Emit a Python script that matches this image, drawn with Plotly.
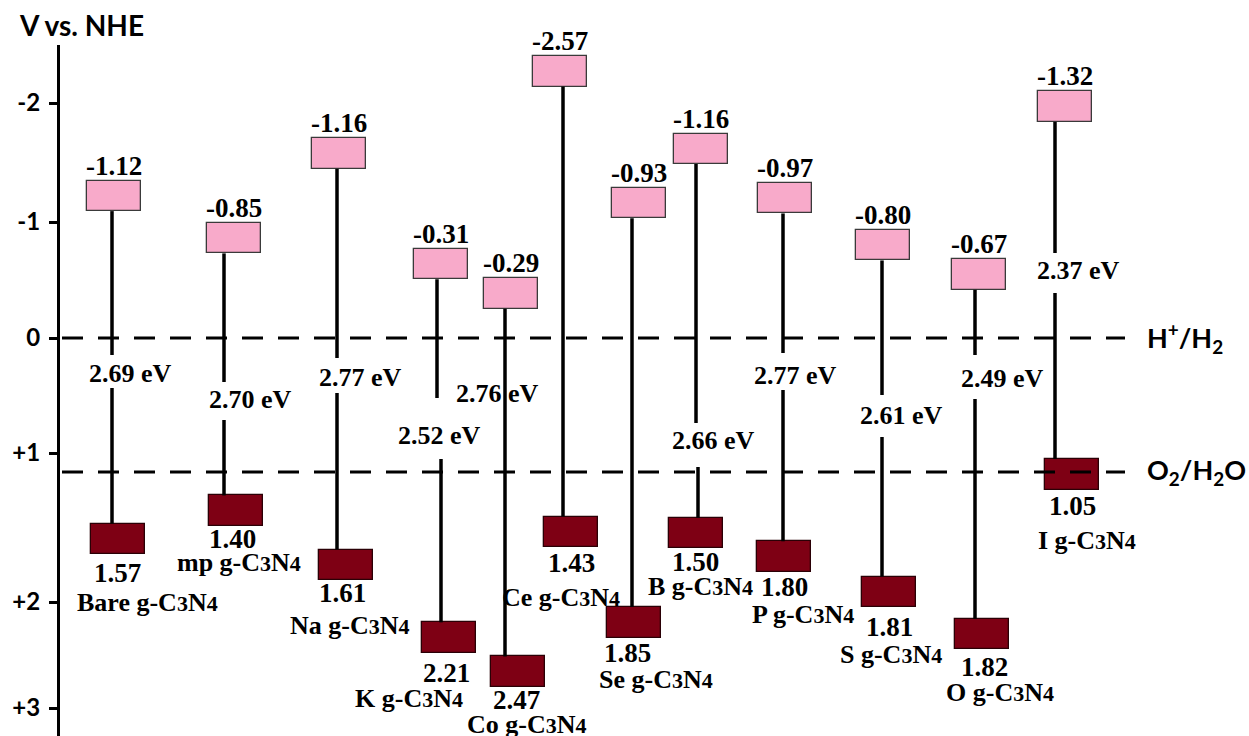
import plotly.graph_objects as go

# ---------------- data ----------------
samples = ["Bare", "mp", "Na", "K", "Co", "Ce", "Se", "B", "P", "S", "O", "I"]
cb_labels = [-1.12, -0.85, -1.16, -0.31, -0.29, -2.57, -0.93, -1.16, -0.97, -0.80, -0.67, -1.32]
vb_labels = [1.57, 1.40, 1.61, 2.21, 2.47, 1.43, 1.85, 1.50, 1.80, 1.81, 1.82, 1.05]
gap_ev = [2.69, 2.70, 2.77, 2.52, 2.76, None, None, 2.66, 2.77, 2.61, 2.49, 2.37]
# band edges where they are drawn in the figure (V vs. NHE)
cb_drawn = [-1.08, -0.72, -1.44, -0.50, -0.25, -2.14, -1.02, -1.48, -1.06, -0.66, -0.41, -1.84]
vb_drawn = [1.58, 1.34, 1.80, 2.42, 2.71, 1.52, 2.29, 1.53, 1.73, 2.03, 2.39, 1.03]
ref_levels = [0.0, 1.14]
ref_names = ["H<sup>+</sup>/H<sub>2</sub>", "O<sub>2</sub>/H<sub>2</sub>O"]
tick_text = ["-2", "-1", "0", "+1", "+2", "+3"]

# ---------------- layout (pixel geometry) ----------------
W, H = 1249, 736
ML, MT = 60, 45
PX0, PXU = 338.0, 117.5          # pixel row of 0 V, pixels per volt


def v(p):
    return (p - PX0) / PXU


def paper_x(p):
    return (p - ML) / (W - ML)


def paper_y(p):
    return (H - p) / (H - MT)


tick_px = [103, 222, 338, 453, 602, 708]
line_x = [112, 224, 337, 437, 505, 563, 632, 696, 783, 882, 975, 1055]
line_x2 = [112, 224, 337, 441, 505, 563, 632, 698, 783, 882, 975, 1055]
cb_box_x = [114, 233.5, 339, 441, 510.5, 560, 639, 701, 785, 883, 978.5, 1065]
vb_box_x = [118, 236, 346, 449, 517.5, 571, 634, 695.5, 784, 889, 982, 1072]
BOX_W = 54
BOX_H = 30.5 / PXU
vb_lbl_x = [117, 232, 342, 446, 516, 571, 627, 695, 784, 889, 984, 1072]
vb_lbl_dy = [19, 13, 13, 20, 13, 16, 15, 14, 15, 20, 18, 16]
name_x = [147, 239, 350, 409, 527, 561, 656, 700, 803, 891, 1000, 1087]
name_dy = [29, 24, 32, 26, 25, 34, 27, 24, 28, 27, 25, 35]
gap_lbl_x = [130, 250, 360, 439, 497, None, None, 713, 795, 901, 1002, 1078]
gap_lbl_y = [373, 399, 377, 435, 393, None, None, 440, 375, 415, 378, 270]
gap_cut = [(355, 388), (382, 420), (358, 393), (398, 459), None, None, None,
           (423, 467), (353, 390), (395, 437), (355, 399), (253, 293)]
REF_X0, REF_X1 = 62, 1125

PINK = "#F8AACA"
DARK = "#7E0014"
SERIF = "Times New Roman, Liberation Serif, serif"
SANS = "Lato, Carlito, sans-serif"

fig = go.Figure()

# reference (redox) dashed lines
for lvl in ref_levels:
    fig.add_trace(go.Scatter(x=[REF_X0, REF_X1], y=[lvl, lvl], mode="lines",
                             line=dict(color="black", width=3, dash="21px,15px"),
                             hoverinfo="skip", showlegend=False))

# vertical band-gap lines
lx, ly = [], []
for i in range(len(samples)):
    cut = gap_cut[i]
    if cut is None:
        lx += [line_x[i], line_x[i], None]
        ly += [cb_drawn[i], vb_drawn[i], None]
    else:
        lx += [line_x[i], line_x[i], None, line_x2[i], line_x2[i], None]
        ly += [cb_drawn[i], v(cut[0]), None, v(cut[1]), vb_drawn[i], None]
fig.add_trace(go.Scatter(x=lx, y=ly, mode="lines", line=dict(color="black", width=3.5),
                         hoverinfo="skip", showlegend=False))

# conduction band boxes
fig.add_trace(go.Bar(x=cb_box_x, y=[BOX_H] * len(samples),
                     base=[c - BOX_H for c in cb_drawn], width=BOX_W,
                     marker=dict(color=PINK, line=dict(color="#3a3a3a", width=1.3)),
                     hoverinfo="skip", showlegend=False))
# valence band boxes
fig.add_trace(go.Bar(x=vb_box_x, y=[BOX_H] * len(samples),
                     base=vb_drawn, width=BOX_W,
                     marker=dict(color=DARK, line=dict(color="#2a0006", width=1.3)),
                     hoverinfo="skip", showlegend=False))

ann = []
val_font = dict(family=SERIF, size=27, color="black")
txt_font = dict(family=SERIF, size=26, color="black")
for i, s in enumerate(samples):
    ann.append(dict(x=cb_box_x[i], y=cb_drawn[i] - BOX_H, yshift=15, text=f"<b>{cb_labels[i]:.2f}</b>",
                    showarrow=False, xanchor="center", yanchor="middle", font=val_font))
    ann.append(dict(x=vb_lbl_x[i], y=vb_drawn[i] + BOX_H, yshift=-vb_lbl_dy[i],
                    text=f"<b>{vb_labels[i]:.2f}</b>", showarrow=False,
                    xanchor="center", yanchor="middle", font=val_font))
    ann.append(dict(x=name_x[i], y=vb_drawn[i] + BOX_H, yshift=-(vb_lbl_dy[i] + name_dy[i]),
                    text=(f"<b>{s} g-C<span style='font-size:22px'>3</span>"
                          f"N<span style='font-size:22px'>4</span></b>"),
                    showarrow=False, xanchor="center", yanchor="middle", font=txt_font))
    if gap_ev[i] is not None:
        ann.append(dict(x=gap_lbl_x[i], y=v(gap_lbl_y[i]), text=f"<b>{gap_ev[i]:.2f} eV</b>",
                        showarrow=False, xanchor="center", yanchor="middle", font=txt_font))

for lvl, nm in zip(ref_levels, ref_names):
    ann.append(dict(x=1145, y=lvl, text=f"<b>{nm}</b>", showarrow=False, xanchor="left",
                    yanchor="middle", font=dict(family=SANS, size=27, color="black")))

ann.append(dict(xref="paper", yref="paper", x=paper_x(17), y=paper_y(25), text="<b>V vs. NHE</b>",
                showarrow=False, xanchor="left", yanchor="middle",
                font=dict(family=SANS, size=28, color="black")))

fig.update_layout(
    width=W, height=H,
    margin=dict(l=ML, r=0, t=MT, b=0),
    paper_bgcolor="white", plot_bgcolor="white",
    barmode="overlay", bargap=0,
    showlegend=False,
    annotations=ann,
    xaxis=dict(range=[ML, W], visible=False, showgrid=False, zeroline=False),
    yaxis=dict(range=[v(H), v(MT)], showgrid=False, zeroline=False,
               showline=True, linewidth=3, linecolor="black",
               ticks="outside", ticklen=8, tickwidth=3, tickcolor="black",
               tickvals=[v(p) for p in tick_px], ticktext=[f"<b>{t}</b>" for t in tick_text],
               tickfont=dict(family=SANS, size=24, color="black"),
               ticklabelstandoff=4),
)

fig.write_html("out.html", config={"displayModeBar": False},
               post_script="document.body.style.margin='0px';document.body.style.overflow='hidden';")
